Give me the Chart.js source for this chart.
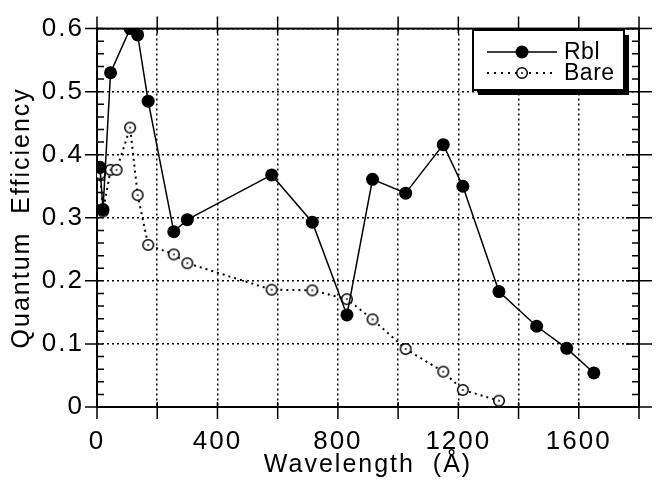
<!DOCTYPE html>
<html>
<head>
<meta charset="utf-8">
<script src="https://cdn.jsdelivr.net/npm/chart.js@4.4.0/dist/chart.umd.min.js"></script>
<style>
    html, body { margin: 0; padding: 0; background: #fff; }
    #wrap { width: 662px; height: 480px; position: relative; }
</style>
</head>
<body>
<div id="wrap"><canvas id="qe"></canvas></div>
<script>
// Data
const wavelengthRbl = [10, 20, 45, 110, 135, 170, 255, 300, 580, 715, 830, 915, 1025, 1150, 1215, 1335, 1460, 1560, 1650];
const efficiencyRbl = [0.38, 0.313, 0.53, 0.6, 0.59, 0.485, 0.278, 0.297, 0.368, 0.293, 0.146, 0.361, 0.339, 0.416, 0.35, 0.183, 0.128, 0.093, 0.054];

const wavelengthBare = [10, 20, 45, 65, 110, 135, 170, 255, 300, 580, 715, 830, 915, 1025, 1150, 1215, 1335];
const efficiencyBare = [0.37, 0.31, 0.376, 0.376, 0.443, 0.336, 0.257, 0.242, 0.228, 0.186, 0.185, 0.171, 0.139, 0.092, 0.056, 0.027, 0.01];

// Axis ticks
const xTickValues = [0, 200, 400, 600, 800, 1000, 1200, 1400, 1600, 1800];
const xTickLabels = ['0', '', '400', '', '800', '', '1200', '', '1600', ''];
const yTickValues = [0, 0.1, 0.2, 0.3, 0.4, 0.5, 0.6];
const yTickLabels = ['0', '0.1', '0.2', '0.3', '0.4', '0.5', '0.6'];

const FONT = 'Liberation Sans, Arial, Helvetica, sans-serif';

/**
 * Open circle with a small dot in the middle (Bare marker)
 */
function ringDot() {
    const c = document.createElement('canvas');
    c.width = 14;
    c.height = 14;
    const g = c.getContext('2d');
    g.beginPath();
    g.arc(7, 7, 5.3, 0, Math.PI * 2);
    g.fillStyle = '#fff';
    g.fill();
    g.lineWidth = 1.5;
    g.strokeStyle = '#000';
    g.stroke();
    g.beginPath();
    g.arc(7, 7, 0.9, 0, Math.PI * 2);
    g.fillStyle = '#000';
    g.fill();
    return c;
}
const bareMarker = ringDot();

function toPoints(xs, ys) {
    return xs.map((x, i) => ({ x: x, y: ys[i] }));
}

// Wide letter spacing like the scanned original
const spacing = {
    id: 'spacing',
    beforeDraw(chart) {
        chart.ctx.letterSpacing = '2px';
    }
};

// Plot frame with ticks on all four sides
const frame = {
    id: 'frame',
    beforeDatasetsDraw(chart) {
        const { ctx, chartArea: a, scales: { x, y } } = chart;
        ctx.save();
        ctx.setLineDash([]);
        ctx.strokeStyle = '#000';
        ctx.lineWidth = 2;
        ctx.strokeRect(a.left, a.top, a.right - a.left, a.bottom - a.top);

        ctx.lineWidth = 1.5;
        ctx.beginPath();
        xTickValues.forEach(v => {
            const px = x.getPixelForValue(v);
            ctx.moveTo(px, a.top - 12);
            ctx.lineTo(px, a.top + 5);
            ctx.moveTo(px, a.bottom + 12);
            ctx.lineTo(px, a.bottom - 5);
        });
        yTickValues.forEach(v => {
            const py = y.getPixelForValue(v);
            ctx.moveTo(a.left - 12, py);
            ctx.lineTo(a.left + 6, py);
            ctx.moveTo(a.right - 13, py);
            ctx.lineTo(a.right + 13, py);
        });
        // minor ticks every 0.02, inside
        for (let i = 1; i < 30; i++) {
            if (i % 5 === 0) continue;
            const py = y.getPixelForValue(i * 0.02);
            ctx.moveTo(a.left, py);
            ctx.lineTo(a.left + 7, py);
            ctx.moveTo(a.right, py);
            ctx.lineTo(a.right - 7, py);
        }
        ctx.stroke();
        ctx.restore();
    }
};

// Boxed legend with drop shadow, upper right
const boxLegend = {
    id: 'boxLegend',
    afterDraw(chart) {
        const ctx = chart.ctx;
        const bx = 473, by = 30, bw = 151, bh = 60;
        ctx.save();
        ctx.letterSpacing = '0.5px';
        ctx.fillStyle = '#000';
        ctx.fillRect(bx + 5, by + 5, bw, bh);
        ctx.fillStyle = '#fff';
        ctx.fillRect(bx, by, bw, bh);
        ctx.lineWidth = 2;
        ctx.strokeStyle = '#000';
        ctx.strokeRect(bx, by, bw, bh);

        const rows = [52, 73];
        chart.data.datasets.forEach((ds, i) => {
            const ry = rows[i];
            ctx.beginPath();
            ctx.setLineDash(i === 0 ? [] : [2, 5]);
            ctx.lineWidth = ds.borderWidth;
            ctx.moveTo(487, ry);
            ctx.lineTo(557, ry);
            ctx.stroke();
            ctx.setLineDash([]);
            if (i === 0) {
                ctx.beginPath();
                ctx.arc(522, ry, 6.5, 0, Math.PI * 2);
                ctx.fillStyle = '#000';
                ctx.fill();
            } else {
                ctx.drawImage(bareMarker, 522 - 7, ry - 7);
            }
            ctx.fillStyle = '#000';
            ctx.font = '23px ' + FONT;
            ctx.textBaseline = 'middle';
            ctx.textAlign = 'left';
            ctx.fillText(ds.label, 564, ry + 1);
        });
        ctx.restore();
    }
};

const gridStyle = {
    color: '#000',
    lineWidth: 1.5,
    drawTicks: false
};
const borderStyle = {
    display: false,
    dash: [2, 3]
};

new Chart(document.getElementById('qe'), {
    type: 'line',
    data: {
        datasets: [
            {
                label: 'Rbl',
                data: toPoints(wavelengthRbl, efficiencyRbl),
                borderColor: '#000',
                borderWidth: 1.5,
                backgroundColor: '#000',
                pointStyle: 'circle',
                pointRadius: 6.5,
                pointBackgroundColor: '#000',
                pointBorderColor: '#000',
                pointBorderWidth: 0,
                tension: 0
            },
            {
                label: 'Bare',
                data: toPoints(wavelengthBare, efficiencyBare),
                borderColor: '#000',
                borderWidth: 2,
                borderDash: [2, 4],
                pointStyle: bareMarker,
                pointRadius: 6,
                tension: 0
            }
        ]
    },
    options: {
        responsive: true,
        maintainAspectRatio: false,
        animation: false,
        layout: { padding: { top: 20, right: 23, left: 0, bottom: 0 } },
        plugins: {
            legend: { display: false },
            tooltip: { enabled: false }
        },
        scales: {
            x: {
                type: 'linear',
                min: 0,
                max: 1800,
                grid: gridStyle,
                border: borderStyle,
                afterBuildTicks: (scale) => {
                    scale.ticks = xTickValues.map(v => ({ value: v }));
                },
                afterFit: (scale) => { scale.height = 73; },
                ticks: {
                    color: '#000',
                    padding: 19,
                    maxRotation: 0,
                    autoSkip: false,
                    font: { family: FONT, size: 26 },
                    callback: (value) => xTickLabels[xTickValues.indexOf(value)] ?? ''
                },
                title: {
                    display: true,
                    text: 'Wavelength  (Å)',
                    color: '#000',
                    font: { family: FONT, size: 25 },
                    padding: { top: 0, bottom: 0 }
                }
            },
            y: {
                type: 'linear',
                min: 0,
                max: 0.6,
                grid: gridStyle,
                border: borderStyle,
                afterBuildTicks: (scale) => {
                    scale.ticks = yTickValues.map(v => ({ value: v }));
                },
                afterFit: (scale) => { scale.width = 97; },
                ticks: {
                    color: '#000',
                    padding: 13,
                    autoSkip: false,
                    font: { family: FONT, size: 26 },
                    callback: (value) => yTickLabels[yTickValues.indexOf(value)] ?? ''
                },
                title: {
                    display: true,
                    text: 'Quantum  Efficiency',
                    color: '#000',
                    font: { family: FONT, size: 25 },
                    padding: { top: 7, bottom: 0 }
                }
            }
        }
    },
    plugins: [spacing, frame, boxLegend]
});
</script>
</body>
</html>
